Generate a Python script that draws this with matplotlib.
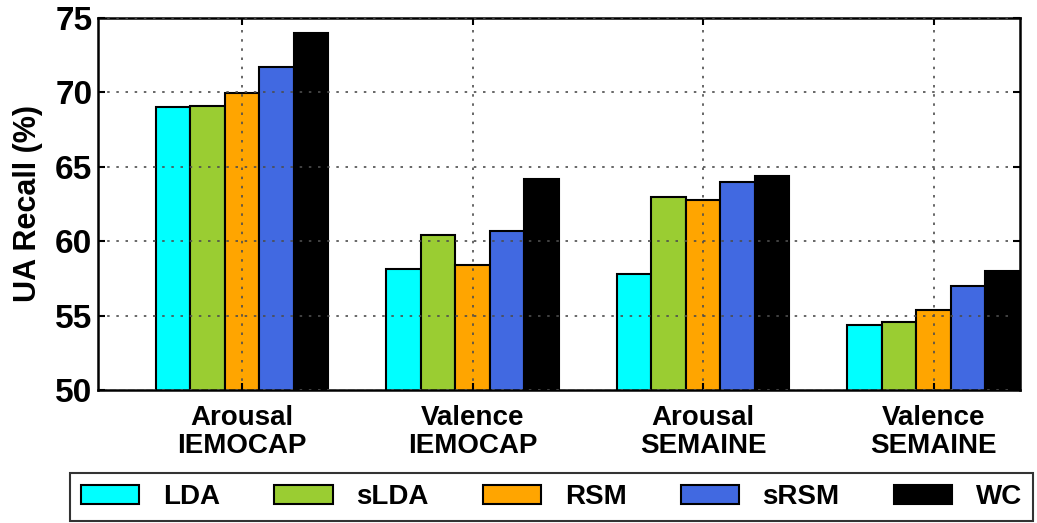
import matplotlib
matplotlib.use("Agg")
import matplotlib.pyplot as plt
import numpy as np

plt.rcParams['font.family'] = ['Liberation Sans', 'DejaVu Sans']

categories = ["Arousal\nIEMOCAP", "Valence\nIEMOCAP", "Arousal\nSEMAINE", "Valence\nSEMAINE"]
methods = ["LDA", "sLDA", "RSM", "sRSM", "WC"]
LDA = [69.0, 58.1, 57.8, 54.4]
sLDA = [69.1, 60.4, 63.0, 54.55]
RSM = [69.95, 58.4, 62.8, 55.4]
sRSM = [71.7, 60.7, 64.0, 57.0]
WC = [74.0, 64.2, 64.35, 58.0]
series = [LDA, sLDA, RSM, sRSM, WC]
colors = ["#00FFFF", "#9ACD32", "#FFA500", "#4169E1", "#000000"]
yticks = [50, 55, 60, 65, 70, 75]

fig = plt.figure(figsize=(10.37, 5.23), dpi=100)
ax = fig.add_axes([0.0945, 0.2543, 0.8891, 0.7113])

x = np.arange(len(categories))
w = 0.15
for i, (vals, c, m) in enumerate(zip(series, colors, methods)):
    ax.bar(x + (i - 2) * w, vals, width=w, color=c, edgecolor='black',
           linewidth=1.5, label=m, zorder=1)

ax.set_xlim(-0.625, 3.375)
ax.set_ylim(50, 75)
ax.set_yticks(yticks)
ax.set_xticks(x)
ax.set_xticklabels(categories, fontsize=20, fontweight='bold', linespacing=1.1)
ax.set_yticklabels([str(t) for t in yticks], fontsize=24, fontweight='bold')
ax.set_ylabel("UA Recall (%)", fontsize=22, fontweight='bold', labelpad=9)
ax.grid(True, linestyle=(0, (1.5, 4)), color='0.3', linewidth=1.2, zorder=3)
ax.set_axisbelow(False)
ax.tick_params(direction='in', top=True, right=True, length=5, width=1.5)
ax.tick_params(axis='x', pad=11)
ax.tick_params(axis='y', pad=4)
for s in ax.spines.values():
    s.set_linewidth(1.8)

leg = fig.legend(loc='upper left', bbox_to_anchor=(70 / 1037, 1 - 473 / 523),
                 ncol=5, frameon=True, fancybox=False, edgecolor='black',
                 prop={'weight': 'bold', 'size': 20}, handlelength=2.1,
                 handleheight=0.72, handletextpad=0.85, columnspacing=1.95,
                 borderpad=0.4, borderaxespad=0)
leg.get_frame().set_linewidth(1.5)

fig.savefig("out.png", dpi=100)
